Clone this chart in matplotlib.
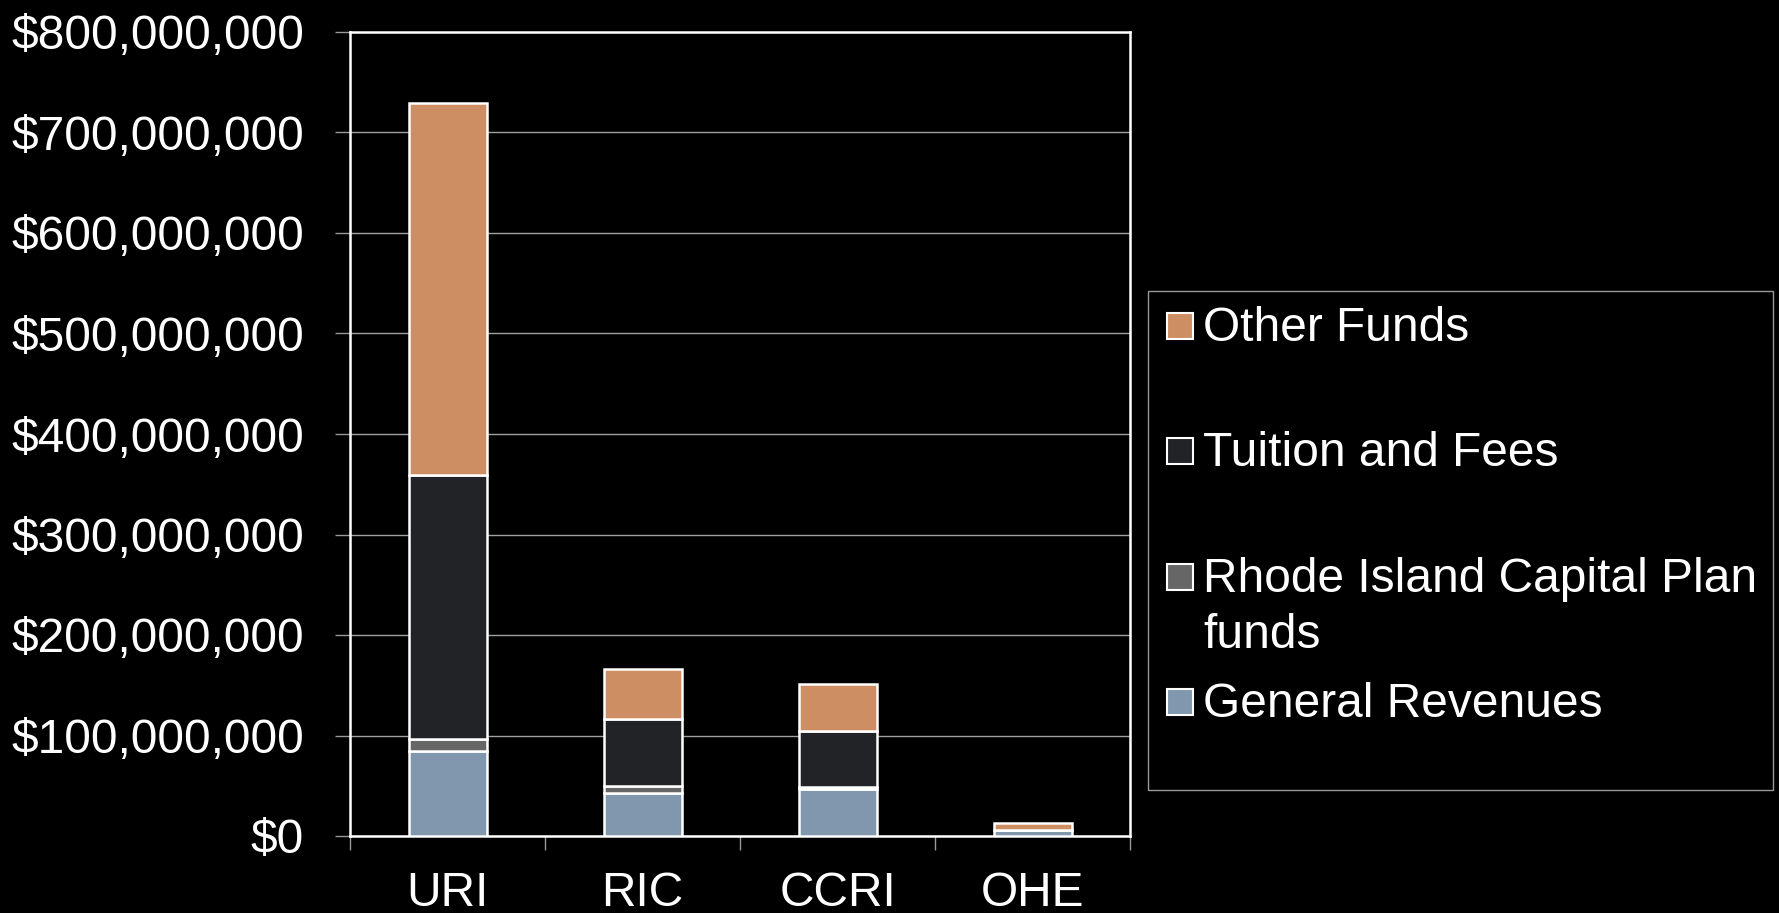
import matplotlib
matplotlib.use("Agg")
import matplotlib.pyplot as plt
from matplotlib.ticker import FuncFormatter, MultipleLocator
from matplotlib.patches import Rectangle
import numpy as np

# data (dollars)
schools = ["URI", "RIC", "CCRI", "OHE"]
general_revenues = [85e6, 43e6, 47e6, 6e6]
capital_plan = [12e6, 7e6, 1.5e6, 0]
tuition_fees = [262e6, 66e6, 56e6, 0]
other_funds = [370e6, 50e6, 47e6, 6.5e6]

series_names = ["General Revenues", "Rhode Island Capital Plan\nfunds",
                "Tuition and Fees", "Other Funds"]
series_values = [general_revenues, capital_plan, tuition_fees, other_funds]
colors = ["#8097AE", "#666666", "#222326", "#CD8E63"]

plt.rcParams["font.family"] = ["Liberation Sans", "DejaVu Sans"]
FS = 34.5

W, H = 1779, 913
fig = plt.figure(figsize=(W / 100, H / 100), dpi=100, facecolor="black")
ax = fig.add_axes([350 / W, 1 - 836 / H, (1130 - 350) / W, (836 - 32) / H])
ax.set_facecolor("black")

x = np.arange(len(schools))
bottom = np.zeros(len(schools))
for vals, col in zip(series_values, colors):
    ax.bar(x, vals, width=0.4, bottom=bottom, color=col,
           edgecolor="white", linewidth=1.8, zorder=3)
    bottom += np.array(vals)

ax.set_xlim(-0.5, 3.5)
ax.set_ylim(0, 800e6)
ax.yaxis.set_major_locator(MultipleLocator(100e6))
ax.yaxis.set_major_formatter(FuncFormatter(lambda v, p: "${:,.0f}".format(v)))
ax.grid(axis="y", color="#a0a0a0", linewidth=1, zorder=0)

ax.set_xticks(x)
ax.set_xticklabels(schools)
ax.set_xticks(np.arange(-0.5, 4, 1), minor=True)
ax.tick_params(axis="x", which="major", length=0, pad=25, labelsize=FS,
               labelcolor="white")
ax.tick_params(axis="x", which="minor", length=10, width=1, color="#999999")
ax.tick_params(axis="y", length=11, width=1, color="#999999", pad=22,
               labelsize=FS, labelcolor="white")

for s in ax.spines.values():
    s.set_color("white")
    s.set_linewidth(1.8)

# legend box drawn by hand so the spacing matches the slide
fig.patches.append(Rectangle((1148 / W, 1 - 790 / H), (1773 - 1148) / W,
                             (790 - 291) / H, transform=fig.transFigure,
                             facecolor="black", edgecolor="#999999",
                             linewidth=1))
entry_y = [702, 577, 451, 326]
for name, col, yc in zip(series_names, colors, entry_y):
    fig.patches.append(Rectangle((1167 / W, 1 - (yc + 13) / H), 26 / W, 26 / H,
                                 transform=fig.transFigure, facecolor=col,
                                 edgecolor="white", linewidth=1.5))
    fig.text(1203 / W, 1 - (yc - 20) / H, name, color="white", fontsize=FS,
             va="top", ha="left", linespacing=1.3)

plt.savefig("out.png", dpi=100, facecolor="black")
